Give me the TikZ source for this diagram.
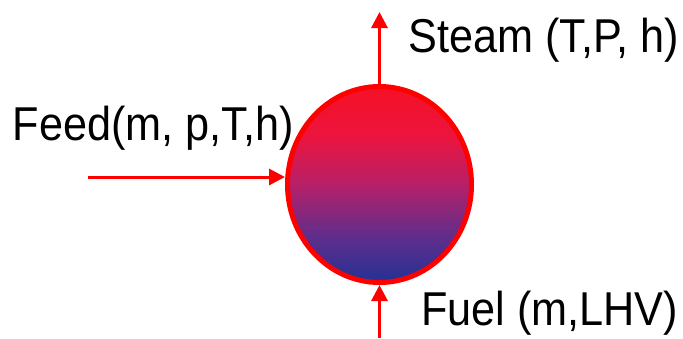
\documentclass[tikz,border=0pt]{standalone}
\usepackage{fontspec}
\setmainfont{Liberation Sans}[FakeStretch=0.91]
\usetikzlibrary{arrows.meta,shapes.geometric}
\definecolor{shA}{RGB}{246,16,38}
\definecolor{shB}{RGB}{236,20,62}
\definecolor{shC}{RGB}{182,32,104}
\definecolor{shD}{RGB}{100,45,138}
\definecolor{shE}{RGB}{35,50,150}
\pgfdeclareverticalshading{drumshade}{100bp}{color(0bp)=(shE); color(25bp)=(shE); color(37.5bp)=(shD); color(50bp)=(shC); color(62.5bp)=(shB); color(75bp)=(shA); color(100bp)=(shA)}
\begin{document}
\begin{tikzpicture}[x=1pt,y=-1pt,
  flow/.style={draw=red,line width=3pt,-{Triangle[length=16pt,width=16pt]}},
  label/.style={inner sep=0pt,font=\fontsize{47.5}{50}\selectfont,text=black}]
\useasboundingbox (0,0) rectangle (683,338);
\node[ellipse,draw=red,line width=5pt,minimum width=184pt,minimum height=196pt,inner sep=0pt,
  shading=drumshade] (drum) at (379.5,184.5) {};
\coordinate (steamend) at (379.5,12);
\coordinate (feedstart) at (88,177);
\coordinate (fuelstart) at (379.5,338);
\draw[flow] (drum.north) -- (steamend);
\draw[flow] (feedstart) -- (feedstart -| drum.west);
\draw[flow] (fuelstart) -- (drum.south);
\node[label,anchor=base west] (steam) at (408,52) {Steam (T,P, h)};
\node[label,anchor=base west] (feed) at (12.5,140) {Feed(m, p,T,h)};
\node[label,anchor=base west] (fuel) at (421,325) {Fuel (m,LHV)};
\end{tikzpicture}
\end{document}
